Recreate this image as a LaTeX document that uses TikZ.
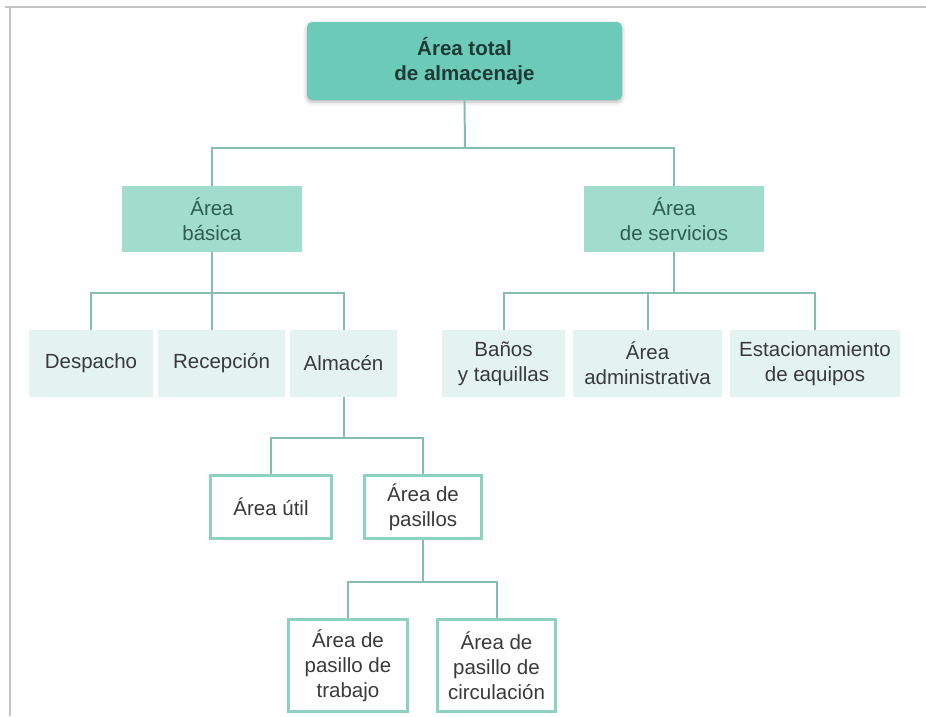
\documentclass[tikz,border=0pt]{standalone}
\usepackage{fontspec}
\setmainfont{Liberation Sans}
\usetikzlibrary{shadows.blur}

\definecolor{tealdark}{HTML}{6CCBB8}
\definecolor{tealmid}{HTML}{A0DDCD}
\definecolor{teallight}{HTML}{E3F3EF}
\definecolor{tealline}{HTML}{86BDB1}
\definecolor{tealedge}{HTML}{8ED0C1}
\definecolor{framegray}{HTML}{C4C4C4}
\definecolor{txt}{HTML}{3A3A3A}
\definecolor{txtgreen}{HTML}{2F5D52}
\definecolor{txtdark}{HTML}{1E3A33}

\begin{document}
\begin{tikzpicture}[x=1pt,y=-1pt,
  box/.style={rectangle, inner sep=0pt, align=center,
    font=\fontsize{20.5}{25}\selectfont, text=txt},
  rootbox/.style={box, fill=tealdark, rounded corners=5pt,
    font=\fontsize{20.5}{25}\selectfont\bfseries, text=txtdark,
    blur shadow={shadow xshift=0pt, shadow yshift=-2pt,
      shadow blur radius=4pt, shadow opacity=30}},
  areabox/.style={box, fill=tealmid, text=txtgreen},
  unitbox/.style={box, fill=teallight},
  subbox/.style={box, draw=tealedge, line width=2.8pt, fill=white},
  link/.style={draw=tealline, line width=2pt},
  frameline/.style={draw=framegray, line width=1.8pt}
]
\useasboundingbox (0,0) rectangle (926,716);

% page frame
\draw[frameline] (5,7) -- (926,7);
\draw[frameline] (10,7) -- (10,716);

% root
\node[rootbox, minimum width=315, minimum height=78] (root) at (464.5,61)
  {Área total\\de almacenaje};

% second level
\node[areabox, minimum width=180, minimum height=66] (basica) at (212,219)
  {Área\\básica};
\node[areabox, minimum width=180, minimum height=66] (serv) at (674,219)
  {Área\\de servicios};

% third level, basic area
\node[unitbox, minimum width=124, minimum height=67] (desp) at (91,363.5) {Despacho};
\node[unitbox, minimum width=127, minimum height=67] (rec) at (221.5,363.5) {Recepción};
\node[unitbox, minimum width=107, minimum height=67] (alm) at (343.5,363.5) {Almacén};

% third level, services
\node[unitbox, minimum width=123, minimum height=67] (banos) at (503.5,363.5)
  {Baños\\y taquillas};
\node[unitbox, minimum width=149, minimum height=67] (admin) at (647.5,363.5)
  {Área\\administrativa};
\node[unitbox, minimum width=170, minimum height=67] (estac) at (815,363.5)
  {Estacionamiento\\de equipos};

% warehouse breakdown
\node[subbox, minimum width=121, minimum height=63] (util) at (271,507) {Área útil};
\node[subbox, minimum width=117, minimum height=63] (pas) at (423,507)
  {Área de\\pasillos};

% aisle breakdown
\node[subbox, minimum width=119, minimum height=92] (trab) at (348,665.5)
  {Área de\\pasillo de\\trabajo};
\node[subbox, minimum width=118, minimum height=92] (circ) at (496.5,665.5)
  {Área de\\pasillo de\\circulación};

% junctions
\coordinate (j0) at (465,148);
\coordinate (j1) at (212,293);
\coordinate (j2) at (674,293);
\coordinate (j3) at (343.5,438);
\coordinate (j4) at (423,582);

% connectors
\draw[link] (root.south) -- (j0);
\draw[link] (basica.north) |- (j0) -| (serv.north);

\draw[link] (basica.south) -- (basica.south |- rec.north);
\draw[link] (desp.north) |- (j1) -| (alm.north);

\draw[link] (serv.south) -- (j2);
\draw[link] (banos.north) |- (j2) -| (estac.north);
\draw[link] (admin.north) -- (admin.north |- j2);

\draw[link] (alm.south) -- (j3);
\draw[link] (util.north) |- (j3) -| (pas.north);

\draw[link] (pas.south) -- (j4);
\draw[link] (trab.north) |- (j4) -| (circ.north);
\end{tikzpicture}
\end{document}
